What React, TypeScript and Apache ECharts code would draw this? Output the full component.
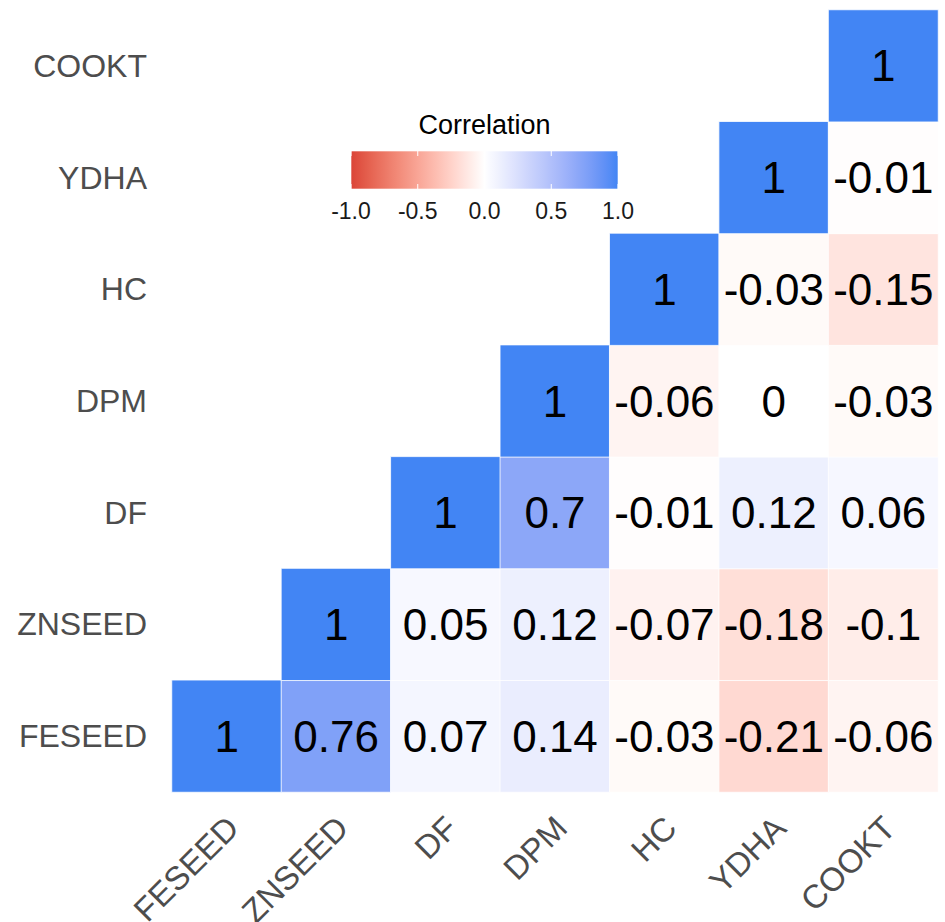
import React, { useEffect, useRef } from "react";
import * as echarts from "echarts";

// ---- data ----
const categories = ["FESEED", "ZNSEED", "DF", "DPM", "HC", "YDHA", "COOKT"];
// each row starts at the diagonal (column index = row index)
const rowFESEED = [1, 0.76, 0.07, 0.14, -0.03, -0.21, -0.06];
const rowZNSEED = [1, 0.05, 0.12, -0.07, -0.18, -0.1];
const rowDF = [1, 0.7, -0.01, 0.12, 0.06];
const rowDPM = [1, -0.06, 0, -0.03];
const rowHC = [1, -0.03, -0.15];
const rowYDHA = [1, -0.01];
const rowCOOKT = [1];
const legendTickValues = [-1, -0.5, 0, 0.5, 1];
const legendTickLabels = ["-1.0", "-0.5", "0.0", "0.5", "1.0"];
const legendTitle = "Correlation";

const LOW = "#DB4437";
const MID = "#FFFFFF";
const HIGH = "#4285F4";

// ---- Lab interpolation (as ggplot does) ----
function hexToRgb(h: string) {
  const n = parseInt(h.slice(1), 16);
  return [(n >> 16) & 255, (n >> 8) & 255, n & 255];
}
const Xn = 0.95047, Yn = 1.0, Zn = 1.08883;
function toLab(hex: string) {
  const [r, g, b] = hexToRgb(hex).map((c) => {
    const v = c / 255;
    return v <= 0.04045 ? v / 12.92 : Math.pow((v + 0.055) / 1.055, 2.4);
  });
  const X = (0.4124564 * r + 0.3575761 * g + 0.1804375 * b) / Xn;
  const Y = (0.2126729 * r + 0.7151522 * g + 0.072175 * b) / Yn;
  const Z = (0.0193339 * r + 0.119192 * g + 0.9503041 * b) / Zn;
  const d = 6 / 29;
  const f = (t: number) => (t > d * d * d ? Math.cbrt(t) : t / (3 * d * d) + 4 / 29);
  const fx = f(X), fy = f(Y), fz = f(Z);
  return [116 * fy - 16, 500 * (fx - fy), 200 * (fy - fz)];
}
function fromLab(L: number, a: number, b: number) {
  const d = 6 / 29;
  const fy = (L + 16) / 116;
  const fx = fy + a / 500;
  const fz = fy - b / 200;
  const finv = (t: number) => (t > d ? t * t * t : 3 * d * d * (t - 4 / 29));
  const X = finv(fx) * Xn, Y = finv(fy) * Yn, Z = finv(fz) * Zn;
  const r = 3.2404542 * X - 1.5371385 * Y - 0.4985314 * Z;
  const g = -0.969266 * X + 1.8760108 * Y + 0.041556 * Z;
  const bb = 0.0556434 * X - 0.2040259 * Y + 1.0572252 * Z;
  const gam = (c: number) => {
    const v = c <= 0.0031308 ? 12.92 * c : 1.055 * Math.pow(c, 1 / 2.4) - 0.055;
    return Math.max(0, Math.min(255, Math.round(v * 255)));
  };
  return `rgb(${gam(r)},${gam(g)},${gam(bb)})`;
}
const labLow = toLab(LOW), labMid = toLab(MID), labHigh = toLab(HIGH);
function colorFor(v: number) {
  const t = Math.abs(v);
  const end = v < 0 ? labLow : labHigh;
  return fromLab(
    labMid[0] + (end[0] - labMid[0]) * t,
    labMid[1] + (end[1] - labMid[1]) * t,
    labMid[2] + (end[2] - labMid[2]) * t
  );
}
const STOPS = 40;
const paletteStops: { v: number; c: string }[] = [];
for (let i = 0; i <= STOPS; i++) {
  const v = -1 + (2 * i) / STOPS;
  paletteStops.push({ v, c: colorFor(v) });
}

export default function App() {
  const ref = useRef<HTMLDivElement>(null);
  useEffect(() => {
    if (!ref.current) return;
    const chart = echarts.init(ref.current, null, { renderer: "svg" });
    const rows = [rowFESEED, rowZNSEED, rowDF, rowDPM, rowHC, rowYDHA, rowCOOKT];
    const data: [number, number, number][] = [];
    rows.forEach((row, yi) => {
      row.forEach((val, k) => data.push([yi + k, yi, val]));
    });

    const gridLeft = 172, gridTop = 10, gridW = 766, gridH = 782;
    const lgX = 351, lgY = 151, lgW = 267, lgH = 38;
    const xOf = (v: number) => lgX + ((v + 1) / 2) * lgW;
    const font = "Liberation Sans, Arial, sans-serif";

    const graphics: any[] = [
      {
        type: "text",
        style: {
          x: lgX + lgW / 2,
          y: 125,
          text: legendTitle,
          fill: "#000",
          font: `27px ${font}`,
          align: "center",
          verticalAlign: "middle",
        },
      },
      {
        type: "rect",
        shape: { x: lgX, y: lgY, width: lgW, height: lgH },
        style: {
          fill: new echarts.graphic.LinearGradient(
            0, 0, 1, 0,
            paletteStops.map((s) => ({ offset: (s.v + 1) / 2, color: s.c }))
          ),
          stroke: "rgba(255,255,255,0.6)",
          lineWidth: 1,
        },
      },
    ];
    legendTickValues.forEach((v, i) => {
      const x = xOf(v);
      graphics.push({
        type: "line",
        shape: { x1: x, y1: lgY, x2: x, y2: lgY + 5 },
        style: { stroke: "#fff", lineWidth: 1 },
      });
      graphics.push({
        type: "line",
        shape: { x1: x, y1: lgY + lgH - 5, x2: x, y2: lgY + lgH },
        style: { stroke: "#fff", lineWidth: 1 },
      });
      graphics.push({
        type: "text",
        style: {
          x,
          y: 211,
          text: legendTickLabels[i],
          fill: "#1a1a1a",
          font: `23px ${font}`,
          align: "center",
          verticalAlign: "middle",
        },
      });
    });

    chart.setOption({
      animation: false,
      backgroundColor: "#fff",
      grid: {
        left: gridLeft,
        top: gridTop,
        width: gridW,
        height: gridH,
        containLabel: false,
        outerBoundsMode: "none",
      },
      xAxis: {
        type: "category",
        data: categories,
        axisLine: { show: false },
        axisTick: { show: false },
        splitLine: { show: false },
        axisLabel: {
          rotate: 45,
          fontSize: 33,
          color: "#4D4D4D",
          fontFamily: font,
          margin: 24,
          interval: 0,
          verticalAlign: "top",
          lineHeight: 17,
          hideOverlap: false,
        },
      },
      yAxis: {
        type: "category",
        data: categories,
        axisLine: { show: false },
        axisTick: { show: false },
        splitLine: { show: false },
        axisLabel: {
          fontSize: 32,
          color: "#4D4D4D",
          fontFamily: font,
          margin: 25,
          interval: 0,
        },
      },
      visualMap: {
        type: "continuous",
        show: false,
        min: -1,
        max: 1,
        dimension: 2,
        inRange: { color: paletteStops.map((s) => s.c) },
      },
      series: [
        {
          type: "heatmap",
          data,
          itemStyle: { borderColor: "rgba(255,255,255,0.8)", borderWidth: 1 },
          label: {
            show: true,
            color: "#000",
            fontSize: 44,
            fontFamily: font,
            formatter: (p: any) => String(p.value[2]),
          },
          emphasis: { disabled: true },
        },
      ],
      graphic: graphics,
    });
    return () => chart.dispose();
  }, []);
  return (
    <div
      ref={ref}
      style={{ position: "fixed", left: 0, top: 0, width: 945, height: 922 }}
    />
  );
}
